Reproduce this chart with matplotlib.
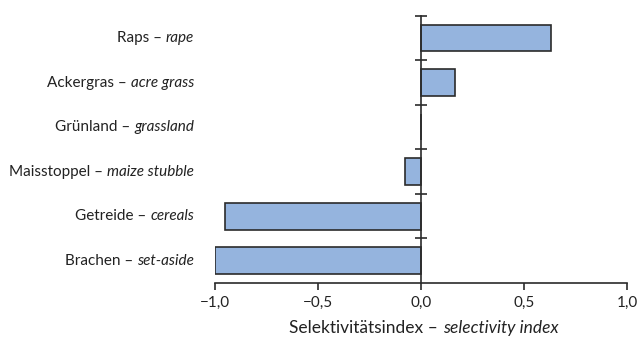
import matplotlib.pyplot as plt
from matplotlib.transforms import blended_transform_factory, offset_copy

plt.rcParams['font.family'] = ['Lato', 'DejaVu Sans']

# Lebensraumtypen (deutsch / englisch) und Selektivitätsindex
kategorien_de = ['Brachen', 'Getreide', 'Maisstoppel', 'Grünland', 'Ackergras', 'Raps']
kategorien_en = ['set-aside', 'cereals', 'maize stubble', 'grassland', 'acre grass', 'rape']
index_werte = [-1.0, -0.95, -0.08, 0.0, 0.165, 0.63]

x_ticks = [-1.0, -0.5, 0.0, 0.5, 1.0]
x_tick_labels = ['\u22121,0', '\u22120,5', '0,0', '0,5', '1,0']

fig = plt.figure(figsize=(6.37, 3.38), dpi=100)
ax = fig.add_axes([0.3375, 0.163, 0.647, 0.79])

farbe_balken = '#95b4de'
farbe_linie = '#2b2b2b'
farbe_text = '#222222'

pos = [i + 0.5 for i in range(len(index_werte))]
ax.barh(pos, index_werte, height=0.6, color=farbe_balken,
        edgecolor=farbe_linie, linewidth=1.2, zorder=2)

ax.set_xlim(-1.0, 1.0)
ax.set_ylim(0, len(index_werte))

# y-Achse liegt bei x = 0
for s in ['top', 'right']:
    ax.spines[s].set_visible(False)
ax.spines['left'].set_position(('data', 0))
ax.spines['left'].set_color(farbe_linie)
ax.spines['left'].set_linewidth(1.2)
ax.spines['bottom'].set_color(farbe_linie)
ax.spines['bottom'].set_linewidth(1.2)
ax.spines['left'].set_zorder(3)

ax.set_yticks(range(1, len(index_werte) + 1))
ax.set_yticklabels([])
ax.tick_params(axis='y', direction='inout', length=9, width=1.2, color=farbe_linie)

ax.set_xticks(x_ticks)
ax.set_xticklabels(x_tick_labels, fontsize=11, color=farbe_text)
ax.tick_params(axis='x', direction='out', length=5, width=1.2,
               color=farbe_linie, pad=4)

# Beschriftungen links: deutsch normal, englisch kursiv
trans = blended_transform_factory(ax.transAxes, ax.transData)
fig.canvas.draw()
renderer = fig.canvas.get_renderer()
for y, de, en in zip(pos, kategorien_de, kategorien_en):
    t_en = ax.text(0, y, en, transform=offset_copy(trans, fig=fig, x=-21, y=0, units='dots'),
                   ha='right', va='center', fontsize=11, style='italic', color=farbe_text)
    w = t_en.get_window_extent(renderer=renderer).width
    ax.text(0, y, de + ' \u2013 ', transform=offset_copy(trans, fig=fig, x=-21 - w, y=0, units='dots'),
            ha='right', va='center', fontsize=11, color=farbe_text)

# Achsentitel
fig.text(0.695, 0.016, 'Selektivitätsindex \u2013 ', ha='right', va='baseline',
         fontsize=12.5, color=farbe_text)
fig.text(0.695, 0.016, 'selectivity index', ha='left', va='baseline',
         fontsize=12.5, style='italic', color=farbe_text)

plt.savefig('out.png', dpi=100)
